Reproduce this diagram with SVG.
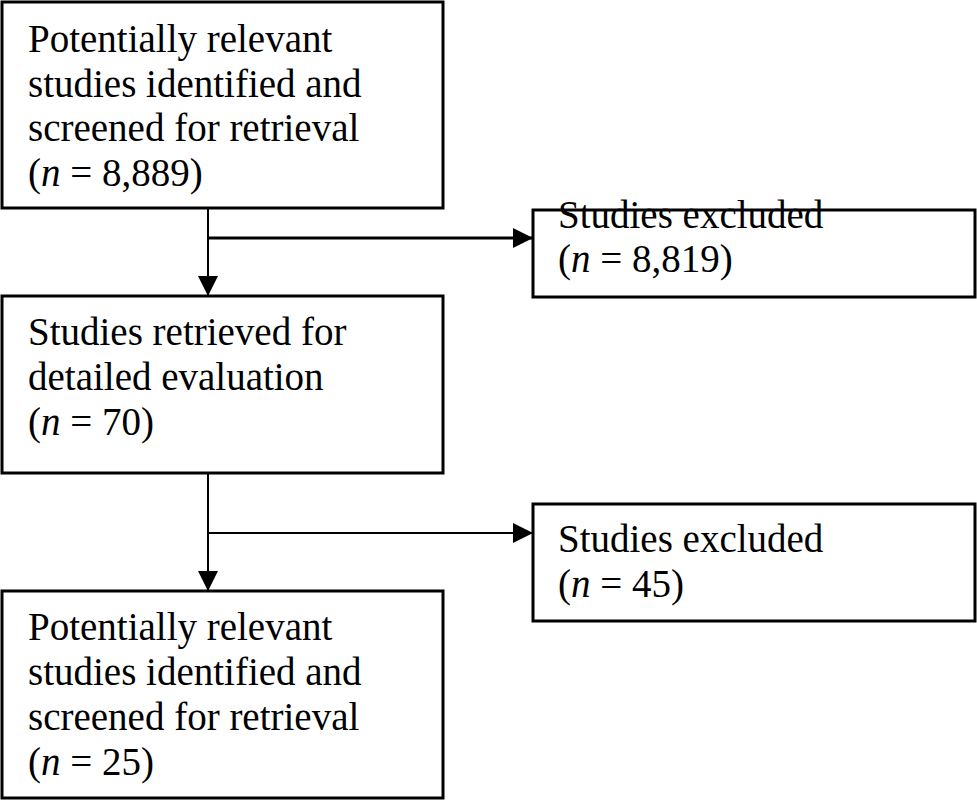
<svg xmlns="http://www.w3.org/2000/svg" width="977" height="800" viewBox="0 0 977 800">
<style>
.b{fill:#fff;stroke:#000;stroke-width:3}
text{font-family:"Liberation Serif","Times New Roman",serif;font-size:39px;fill:#000}
.c{stroke:#000;stroke-width:2;fill:none}
.h{stroke:#000;stroke-width:3;fill:none}
</style>
<defs><marker id="b" markerWidth="20" markerHeight="20" refX="19" refY="10" orient="auto" markerUnits="userSpaceOnUse" viewBox="0 0 20 20"><path d="M0,0L20,10L0,20z" fill="#000"/></marker></defs>
<rect width="977" height="800" fill="#fff"/>
<g id="connectors">
<path class="c" d="M208,208V295" marker-end="url(#b)"/>
<path class="h" d="M208,238H532" marker-end="url(#b)"/>
<path class="c" d="M208,473V590" marker-end="url(#b)"/>
<path class="c" d="M208,533H532" marker-end="url(#b)"/>
</g>
<g id="n1"><rect class="b" x="2" y="2" width="441" height="206"/>
<text x="28" y="52">Potentially relevant</text><text x="28" y="97">studies identified and</text><text x="28" y="141">screened for retrieval</text><text x="28" y="186">(<tspan font-style="italic">n</tspan> = 8,889)</text></g>
<g id="n2"><rect class="b" x="533" y="210" width="442" height="87"/>
<text x="558" y="228">Studies excluded</text><text x="558" y="272">(<tspan font-style="italic">n</tspan> = 8,819)</text></g>
<g id="n3"><rect class="b" x="2" y="296" width="441" height="177"/>
<text x="28" y="345">Studies retrieved for</text><text x="28" y="390">detailed evaluation</text><text x="28" y="435">(<tspan font-style="italic">n</tspan> = 70)</text></g>
<g id="n4"><rect class="b" x="533" y="504" width="442" height="117"/>
<text x="558" y="552">Studies excluded</text><text x="558" y="597">(<tspan font-style="italic">n</tspan> = 45)</text></g>
<g id="n5"><rect class="b" x="2" y="591" width="441" height="207"/>
<text x="28" y="640">Potentially relevant</text><text x="28" y="685">studies identified and</text><text x="28" y="730">screened for retrieval</text><text x="28" y="775">(<tspan font-style="italic">n</tspan> = 25)</text></g>
</svg>
